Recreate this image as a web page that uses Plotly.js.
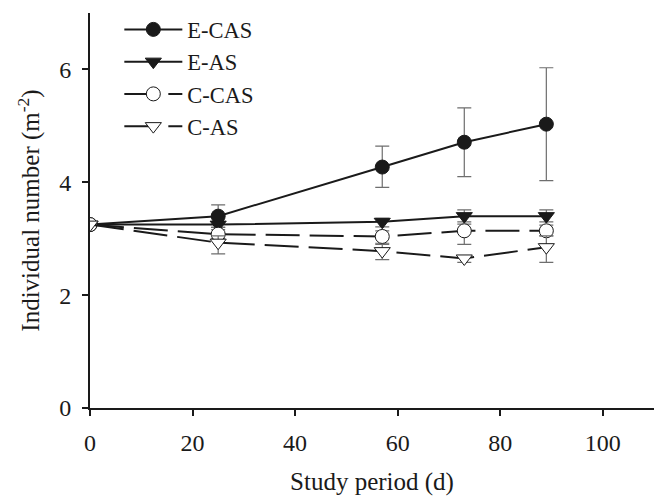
<!DOCTYPE html>
<html>
<head>
<meta charset="utf-8">
<script src="https://cdn.plot.ly/plotly-3.0.1.min.js"></script>
<style>html,body{margin:0;padding:0;background:#fff;}#chart{width:662px;height:498px;}</style>
</head>
<body>
<div id="chart"></div>
<script>
const days = [0, 25, 57, 73, 89];

const eCasMean = [3.25, 3.40, 4.27, 4.71, 5.03];
const eCasUp   = [0, 0.20, 0.37, 0.61, 1.00];
const eCasDown = [0, 0.20, 0.36, 0.61, 1.00];

const eAsMean = [3.25, 3.25, 3.30, 3.40, 3.40];
const eAsUp   = [0, 0.05, 0.06, 0.11, 0.11];
const eAsDown = [0, 0.05, 0.09, 0.10, 0.10];

const cCasMean = [3.25, 3.08, 3.04, 3.14, 3.14];
const cCasUp   = [0, 0.08, 0.10, 0.12, 0.10];
const cCasDown = [0, 0.08, 0.12, 0.24, 0.09];

const cAsMean = [3.25, 2.93, 2.78, 2.65, 2.85];
const cAsUp   = [0, 0.12, 0.12, 0.05, 0.20];
const cAsDown = [0, 0.20, 0.15, 0.07, 0.27];

const seriesNames = ['E-CAS', 'E-AS', 'C-CAS', 'C-AS'];

function errs(up, down) {
  return {type: 'data', symmetric: false, array: up, arrayminus: down,
          color: '#6e6e6e', thickness: 1.2, width: 7};
}

const traces = [
  {x: days, y: eCasMean, name: seriesNames[0], mode: 'lines+markers',
   line: {color: '#1a1a1a', width: 2, dash: 'solid'},
   marker: {symbol: 'circle', size: 14, color: '#1a1a1a', line: {color: '#1a1a1a', width: 1}},
   error_y: errs(eCasUp, eCasDown)},
  {x: days, y: eAsMean, name: seriesNames[1], mode: 'lines+markers',
   line: {color: '#1a1a1a', width: 2, dash: 'solid'},
   marker: {symbol: 'triangle-down', size: 14, color: '#1a1a1a', line: {color: '#1a1a1a', width: 1}},
   error_y: errs(eAsUp, eAsDown)},
  {x: days, y: cCasMean, name: seriesNames[2], mode: 'lines+markers',
   line: {color: '#1a1a1a', width: 2, dash: '34px,10px'},
   marker: {symbol: 'circle', size: 14, color: '#ffffff', line: {color: '#1a1a1a', width: 1}},
   error_y: errs(cCasUp, cCasDown)},
  {x: days, y: cAsMean, name: seriesNames[3], mode: 'lines+markers',
   line: {color: '#1a1a1a', width: 2, dash: '34px,10px'},
   marker: {symbol: 'triangle-down', size: 14, color: '#ffffff', line: {color: '#1a1a1a', width: 1}},
   error_y: errs(cAsUp, cAsDown)}
];

const font = {family: '"Liberation Serif", "Times New Roman", serif', size: 24, color: '#1a1a1a'};
const legendFont = {family: '"Liberation Serif", "Times New Roman", serif', size: 22.5, color: '#1a1a1a'};
const titleFont = {family: '"Liberation Serif", "Times New Roman", serif', size: 25, color: '#1a1a1a'};

const layout = {
  width: 662, height: 498,
  margin: {l: 90, r: 8, t: 13, b: 90},
  paper_bgcolor: '#fff', plot_bgcolor: '#fff',
  font: font,
  showlegend: true,
  legend: {x: 0.052, y: 1.012, xanchor: 'left', yanchor: 'top', bgcolor: 'rgba(0,0,0,0)',
           font: legendFont, itemwidth: 58, tracegroupgap: 0},
  xaxis: {range: [0, 110], tickvals: [0, 20, 40, 60, 80, 100], showgrid: false, zeroline: false,
          showline: true, linecolor: '#1a1a1a', linewidth: 2, ticks: 'outside', ticklen: 6,
          tickwidth: 2, tickcolor: '#1a1a1a', ticklabelstandoff: 6,
          title: {text: 'Study period (d)', font: titleFont, standoff: 18}},
  yaxis: {range: [0, 7], tickvals: [0, 2, 4, 6], showgrid: false, zeroline: false,
          showline: true, linecolor: '#1a1a1a', linewidth: 2, ticks: 'outside', ticklen: 6,
          tickwidth: 2, tickcolor: '#1a1a1a', ticklabelstandoff: 6,
          title: {text: 'Individual number (m<sup>-2</sup>)', font: titleFont, standoff: 12}}
};

Plotly.newPlot('chart', traces, layout, {displayModeBar: false, staticPlot: true});
</script>
</body>
</html>
